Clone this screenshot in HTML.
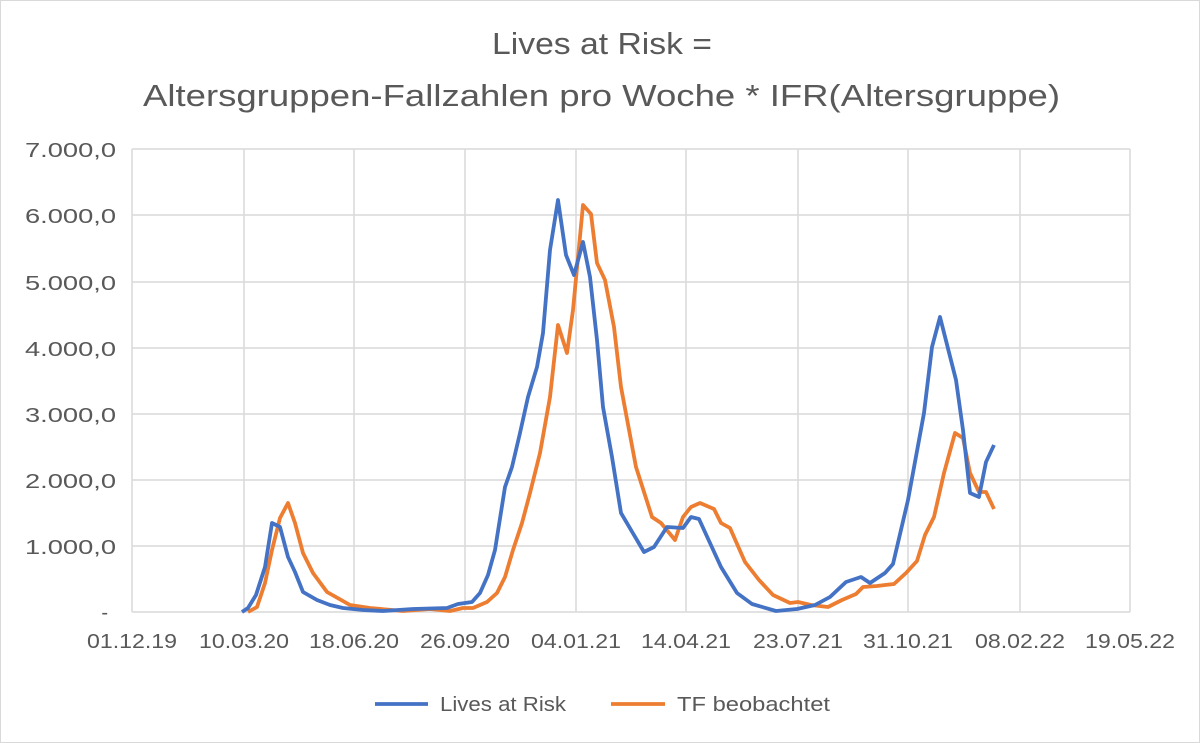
<!DOCTYPE html>
<html><head><meta charset="utf-8"><style>
body{margin:0;background:#fff}
svg{display:block}
text{font-family:"Liberation Sans",sans-serif;fill:#595959}
</style></head><body>
<svg width="1200" height="743" viewBox="0 0 1200 743">
<rect x="0.5" y="0.5" width="1199" height="742" fill="#fff" stroke="#d9d9d9"/>
<text x="492" y="54" font-size="31" textLength="220" lengthAdjust="spacingAndGlyphs">Lives at Risk =</text>
<text x="143" y="106" font-size="31" textLength="917" lengthAdjust="spacingAndGlyphs">Altersgruppen-Fallzahlen pro Woche * IFR(Altersgruppe)</text>
<g stroke="#d9d9d9" stroke-width="1.5" fill="none">
<path d="M132 149H1130M132 215H1130M132 282H1130M132 348H1130M132 414H1130M132 480H1130M132 546H1130"/>
<path d="M132 149V612M244 149V612M354 149V612M465 149V612M576 149V612M686 149V612M798 149V612M908 149V612M1020 149V612M1130 149V612"/>
<path d="M132 612H1130"/>
</g>
<g font-size="20">
<text x="25" y="157" textLength="91" lengthAdjust="spacingAndGlyphs">7.000,0</text>
<text x="25" y="223" textLength="91" lengthAdjust="spacingAndGlyphs">6.000,0</text>
<text x="25" y="290" textLength="91" lengthAdjust="spacingAndGlyphs">5.000,0</text>
<text x="25" y="356" textLength="91" lengthAdjust="spacingAndGlyphs">4.000,0</text>
<text x="25" y="422" textLength="91" lengthAdjust="spacingAndGlyphs">3.000,0</text>
<text x="25" y="488" textLength="91" lengthAdjust="spacingAndGlyphs">2.000,0</text>
<text x="25" y="554" textLength="91" lengthAdjust="spacingAndGlyphs">1.000,0</text>
<text x="108" y="619" text-anchor="end">-</text>
</g>
<g font-size="20">
<text x="87" y="648" textLength="90" lengthAdjust="spacingAndGlyphs">01.12.19</text>
<text x="199" y="648" textLength="90" lengthAdjust="spacingAndGlyphs">10.03.20</text>
<text x="309" y="648" textLength="90" lengthAdjust="spacingAndGlyphs">18.06.20</text>
<text x="420" y="648" textLength="90" lengthAdjust="spacingAndGlyphs">26.09.20</text>
<text x="531" y="648" textLength="90" lengthAdjust="spacingAndGlyphs">04.01.21</text>
<text x="641" y="648" textLength="90" lengthAdjust="spacingAndGlyphs">14.04.21</text>
<text x="753" y="648" textLength="90" lengthAdjust="spacingAndGlyphs">23.07.21</text>
<text x="863" y="648" textLength="90" lengthAdjust="spacingAndGlyphs">31.10.21</text>
<text x="975" y="648" textLength="90" lengthAdjust="spacingAndGlyphs">08.02.22</text>
<text x="1085" y="648" textLength="90" lengthAdjust="spacingAndGlyphs">19.05.22</text>
</g>
<polyline fill="none" stroke="#ED7D31" stroke-width="3.8" stroke-linejoin="round" points="248,612 257,607 265,583 272,550 280,518 288,503 295,523 303,553 313,573 327,592 350,605 370,608 403,611 430,609 450,611 463,608 473,608 487,602 497,593 505,577 513,550 522,523 530,493 540,453 550,397 558,325 567,353 573,310 583,205 591,214 597,263 605,280 614,327 621,387 636,467 652,517 661,523 675,540 683,517 691,507 700,503 714,509 721,523 730,528 745,562 759,580 773,595 790,603 798,602 811,605 828,607 842,600 856,594 863,587 877,586 885,585 894,584 906,573 917,561 925,535 934,517 944,473 955,433 963,438 970,473 979,492 986,492 994,509"/>
<polyline fill="none" stroke="#4472C4" stroke-width="3.8" stroke-linejoin="round" points="242,612 248,608 256,595 265,567 272,523 280,527 288,557 295,572 303,592 317,600 330,605 343,608 363,610 383,611 413,609 447,608 458,604 472,602 480,593 488,575 495,550 505,487 512,467 520,433 528,397 537,367 543,333 550,250 558,200 566,255 574,275 583,242 590,277 597,340 603,407 612,457 621,513 644,552 654,547 667,527 683,528 691,517 699,519 721,567 737,593 752,604 776,611 797,609 815,605 830,597 846,582 861,577 870,583 885,573 893,564 908,500 924,413 932,347 940,317 956,380 963,430 970,493 979,497 986,462 994,445"/>
<line x1="375" y1="704" x2="428" y2="704" stroke="#4472C4" stroke-width="3.8"/>
<text x="440" y="711" font-size="20" textLength="126" lengthAdjust="spacingAndGlyphs">Lives at Risk</text>
<line x1="611" y1="704" x2="665" y2="704" stroke="#ED7D31" stroke-width="3.8"/>
<text x="677" y="711" font-size="20" textLength="153" lengthAdjust="spacingAndGlyphs">TF beobachtet</text>
</svg>
</body></html>
